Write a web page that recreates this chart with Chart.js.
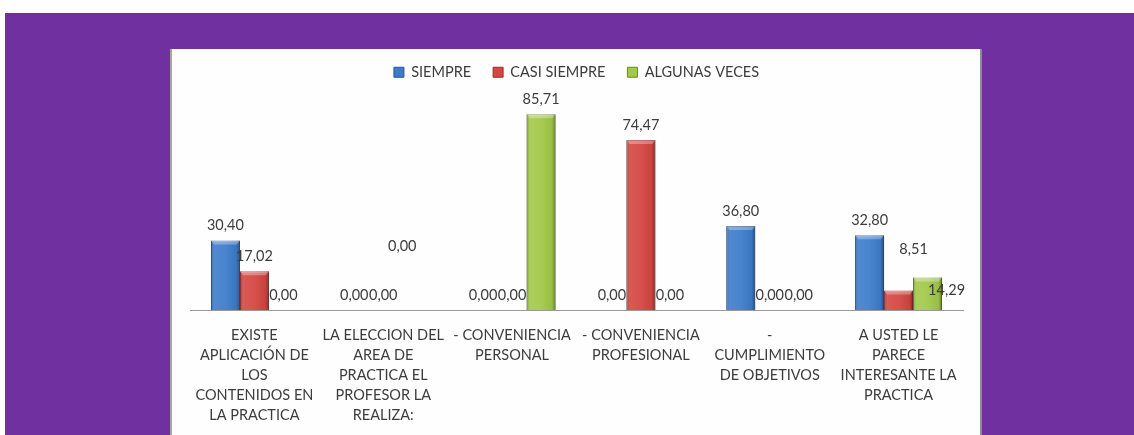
<!DOCTYPE html>
<html>
<head>
<meta charset="utf-8">
<script src="https://cdn.jsdelivr.net/npm/chart.js@4"></script>
<style>
  body { margin: 0; background: #fff; width: 1134px; height: 435px; overflow: hidden; position: relative; }
  #fondo { position: absolute; left: 5px; top: 13px; width: 1129px; height: 422px; background: #7030A0; }
  #panel { position: absolute; left: 170px; top: 49px; width: 808px; height: 386px; background: #fefefe;
           border-left: 2px solid #a4a4a4; border-right: 2px solid #8e8e8e; overflow: hidden; }
  #grafico { position: absolute; left: 0; top: -6px; }
</style>
</head>
<body>
<div id="fondo"></div>
<div id="panel"><canvas id="grafico" width="808" height="407"></canvas></div>
<script>
// Categorias (etiquetas del eje x, ya partidas en lineas)
const categorias = [
    ["EXISTE", "APLICACIÓN DE", "LOS", "CONTENIDOS EN", "LA PRACTICA"],
    ["LA ELECCION DEL", "AREA DE", "PRACTICA EL", "PROFESOR LA", "REALIZA:"],
    ["- CONVENIENCIA", "PERSONAL"],
    ["- CONVENIENCIA", "PROFESIONAL"],
    ["-", "CUMPLIMIENTO", "DE OBJETIVOS"],
    ["A USTED LE", "PARECE", "INTERESANTE LA", "PRACTICA"]
];

// Valores de cada serie (%)
const siempre = [30.40, 0, 0, 0, 36.80, 32.80];
const casiSiempre = [17.02, 0, 0, 74.47, 0, 8.51];
const algunasVeces = [0, 0, 85.71, 0, 0, 14.29];

// Etiquetas que en el original se movieron a mano: "serie-indice": [dx, dy]
const desplazamientos = {
    "2-1": [-10, -49],
    "1-5": [15, -26],
    "2-5": [19, 28]
};

const fuente = "Lato, 'Open Sans', sans-serif";
const colorTexto = "#3c3c3c";

// Formato con coma decimal
function formato(v) {
    return v.toFixed(2).replace(".", ",");
}

// Brillo tipo bisel encima de cada barra
const biselBarras = {
    id: "biselBarras",
    afterDatasetsDraw(chart) {
        const ctx = chart.ctx;
        chart.data.datasets.forEach((ds, i) => {
            chart.getDatasetMeta(i).data.forEach(bar => {
                const w = bar.width;
                const x0 = bar.x - w / 2;
                const h = bar.base - bar.y;
                if (h < 1) return;
                const g = ctx.createLinearGradient(x0, 0, x0 + w, 0);
                g.addColorStop(0, "rgba(0,0,0,0.30)");
                g.addColorStop(0.12, "rgba(255,255,255,0.10)");
                g.addColorStop(0.5, "rgba(255,255,255,0.06)");
                g.addColorStop(0.88, "rgba(0,0,0,0.06)");
                g.addColorStop(1, "rgba(0,0,0,0.40)");
                ctx.save();
                ctx.fillStyle = g;
                ctx.fillRect(x0, bar.y, w, h);
                // tapa superior mas clara
                ctx.fillStyle = "rgba(255,255,255,0.30)";
                ctx.beginPath();
                ctx.moveTo(x0, bar.y);
                ctx.lineTo(x0 + w, bar.y);
                ctx.lineTo(x0 + w - 3, bar.y + 4);
                ctx.lineTo(x0 + 3, bar.y + 4);
                ctx.closePath();
                ctx.fill();
                ctx.restore();
            });
        });
    }
};

// Etiquetas de valor sobre las barras
const etiquetasValor = {
    id: "etiquetasValor",
    afterDatasetsDraw(chart) {
        const ctx = chart.ctx;
        ctx.save();
        ctx.font = "14.5px " + fuente;
        ctx.fillStyle = colorTexto;
        ctx.textAlign = "center";
        ctx.textBaseline = "middle";
        chart.data.datasets.forEach((ds, i) => {
            chart.getDatasetMeta(i).data.forEach((bar, j) => {
                const d = desplazamientos[i + "-" + j] || [0, 0];
                ctx.fillText(formato(ds.data[j]), bar.x + d[0], bar.y - 15 + d[1]);
            });
        });
        ctx.restore();
    }
};

const ctx = document.getElementById("grafico").getContext("2d");
new Chart(ctx, {
    type: "bar",
    data: {
        labels: categorias,
        datasets: [
            { label: "SIEMPRE", data: siempre, backgroundColor: "#3d7ccc", borderColor: "#2a5893", borderWidth: 1 },
            { label: "CASI SIEMPRE", data: casiSiempre, backgroundColor: "#d44642", borderColor: "#9a2b28", borderWidth: 1 },
            { label: "ALGUNAS VECES", data: algunasVeces, backgroundColor: "#a2c948", borderColor: "#6b8a27", borderWidth: 1 }
        ]
    },
    options: {
        responsive: false,
        animation: false,
        layout: { padding: { left: 18, right: 17, top: 0, bottom: 10 } },
        datasets: { bar: { categoryPercentage: 0.675, barPercentage: 1 } },
        scales: {
            x: {
                grid: { display: true, drawOnChartArea: false, drawTicks: false },
                border: { display: true, color: "#9a9a9a", width: 1 },
                ticks: {
                    padding: 15,
                    maxRotation: 0,
                    autoSkip: false,
                    color: colorTexto,
                    font: { family: fuente, size: 14.5, lineHeight: 20 / 14.5 }
                }
            },
            y: { display: false, min: 0, max: 96.6 }
        },
        plugins: {
            tooltip: { enabled: false },
            legend: {
                position: "top",
                labels: {
                    boxWidth: 10,
                    boxHeight: 10,
                    padding: 22,
                    color: colorTexto,
                    font: { family: fuente, size: 14.5 }
                }
            }
        }
    },
    plugins: [biselBarras, etiquetasValor]
});
</script>
</body>
</html>
